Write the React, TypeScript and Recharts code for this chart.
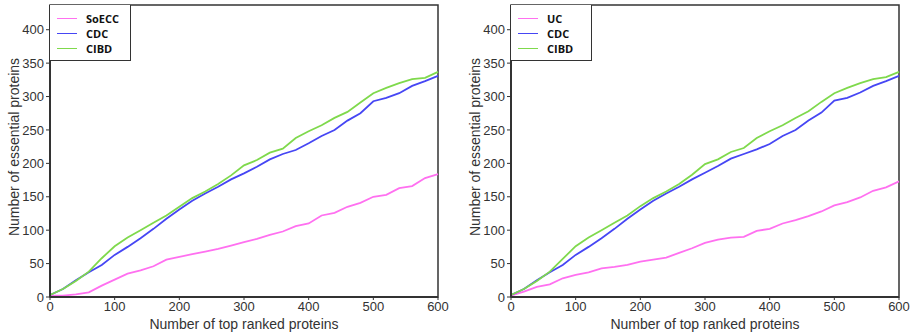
import React from 'react';
import { LineChart, Line, XAxis, YAxis, ReferenceArea } from 'recharts';

// x positions: number of top ranked proteins
const topRanked = [0, 20, 40, 60, 80, 100, 120, 140, 160, 180, 200, 220, 240, 260, 280, 300, 320, 340, 360, 380, 400, 420, 440, 460, 480, 500, 520, 540, 560, 580, 600];

// left panel
const soecc = [2, 2, 4, 7, 17, 26, 35, 40, 46, 56, 60, 64, 68, 72, 77, 82, 87, 93, 98, 106, 110, 122, 126, 135, 141, 150, 153, 163, 166, 178, 184];
const cdcLeft = [3, 12, 25, 37, 48, 63, 75, 88, 102, 117, 131, 144, 155, 165, 176, 185, 195, 206, 214, 220, 230, 241, 250, 264, 275, 293, 298, 305, 316, 323, 331];
const cibdLeft = [3, 12, 24, 38, 58, 76, 89, 100, 111, 122, 135, 148, 158, 169, 182, 197, 205, 216, 222, 238, 248, 257, 268, 277, 291, 305, 313, 320, 326, 328, 337];

// right panel
const uc = [2, 8, 15, 19, 28, 33, 37, 43, 45, 48, 53, 56, 59, 66, 73, 81, 86, 89, 90, 99, 102, 110, 115, 121, 128, 137, 142, 149, 159, 164, 173];
const cdcRight = [3, 12, 25, 37, 48, 63, 75, 88, 102, 117, 131, 144, 155, 165, 176, 186, 196, 207, 214, 221, 229, 241, 250, 264, 276, 294, 298, 306, 316, 323, 331];
const cibdRight = [3, 12, 24, 38, 57, 76, 89, 100, 111, 122, 136, 148, 158, 169, 183, 199, 206, 217, 223, 238, 248, 257, 268, 278, 292, 305, 313, 320, 326, 329, 337];

const xTicks = [0, 100, 200, 300, 400, 500, 600];
const yTicks = [0, 50, 100, 150, 200, 250, 300, 350, 400];

const PINK = '#ff70f0';
const BLUE = '#4646f4';
const GREEN = '#7fd94c';
const AXIS = '#333';
const FONT = '"Liberation Sans", Arial, sans-serif';

const LegendBox = ({ names }: { names: string[] }) => {
  const colors = [PINK, BLUE, GREEN];
  return (
    <div style={{ position: 'absolute', top: 5, left: 50, width: 81, height: 56, borderRight: '1.5px solid #333', borderBottom: '1.5px solid #333', boxSizing: 'border-box', background: '#fff', paddingTop: 6 }}>
      {names.map((n, i) => (
        <div key={n} style={{ display: 'flex', alignItems: 'center', height: 15 }}>
          <div style={{ width: 20, height: 1.5, background: colors[i], marginLeft: 7 }} />
          <span style={{ marginLeft: 9, fontFamily: '"Open Sans", sans-serif', fontWeight: 700, fontSize: 11, color: '#111', lineHeight: '15px' }}>{n}</span>
        </div>
      ))}
    </div>
  );
};

const Panel = ({ first, cdc, cibd, firstName }: { first: number[]; cdc: number[]; cibd: number[]; firstName: string }) => {
  const data = topRanked.map((x, i) => ({ x, a: first[i], cdc: cdc[i], cibd: cibd[i] }));
  const tick = { fill: '#333', fontSize: 13, fontFamily: FONT };
  return (
    <div style={{ position: 'relative', width: 457, height: 332 }}>
      <LineChart width={457} height={332} data={data} margin={{ top: 5, right: 19, bottom: 0, left: 10 }}>
        <XAxis dataKey="x" type="number" domain={[0, 600]} ticks={xTicks} tick={tick} tickLine={{ stroke: AXIS }} tickSize={3}
          axisLine={{ stroke: AXIS, strokeWidth: 2 }} height={35}
          label={{ value: 'Number of top ranked proteins', position: 'insideBottom', offset: 3, fill: '#333', fontSize: 14, fontFamily: FONT }} />
        <YAxis type="number" domain={[0, 437]} ticks={yTicks} tick={tick} tickLine={{ stroke: AXIS }} tickSize={4} width={40}
          axisLine={{ stroke: AXIS, strokeWidth: 2 }} allowDataOverflow
          label={{ value: 'Number of essential proteins', angle: -90, position: 'insideLeft', offset: 4, dy: -4, fill: '#333', fontSize: 14, fontFamily: FONT, style: { textAnchor: 'middle' } }} />
        <ReferenceArea x1={0} x2={600} y1={0} y2={437} fill="none" stroke={AXIS} strokeWidth={1.5} ifOverflow="visible" />
        <Line type="linear" dataKey="a" stroke={PINK} strokeWidth={1.8} dot={false} isAnimationActive={false} />
        <Line type="linear" dataKey="cdc" stroke={BLUE} strokeWidth={1.8} dot={false} isAnimationActive={false} />
        <Line type="linear" dataKey="cibd" stroke={GREEN} strokeWidth={1.8} dot={false} isAnimationActive={false} />
      </LineChart>
      <LegendBox names={[firstName, 'CDC', 'CIBD']} />
    </div>
  );
};

export default function App() {
  return (
    <div style={{ position: 'absolute', top: 0, left: 0, width: 914, height: 332, background: '#fff' }}>
      <div style={{ position: 'absolute', top: 0, left: 0 }}>
        <Panel first={soecc} cdc={cdcLeft} cibd={cibdLeft} firstName="SoECC" />
      </div>
      <div style={{ position: 'absolute', top: 0, left: 461 }}>
        <Panel first={uc} cdc={cdcRight} cibd={cibdRight} firstName="UC" />
      </div>
    </div>
  );
}
